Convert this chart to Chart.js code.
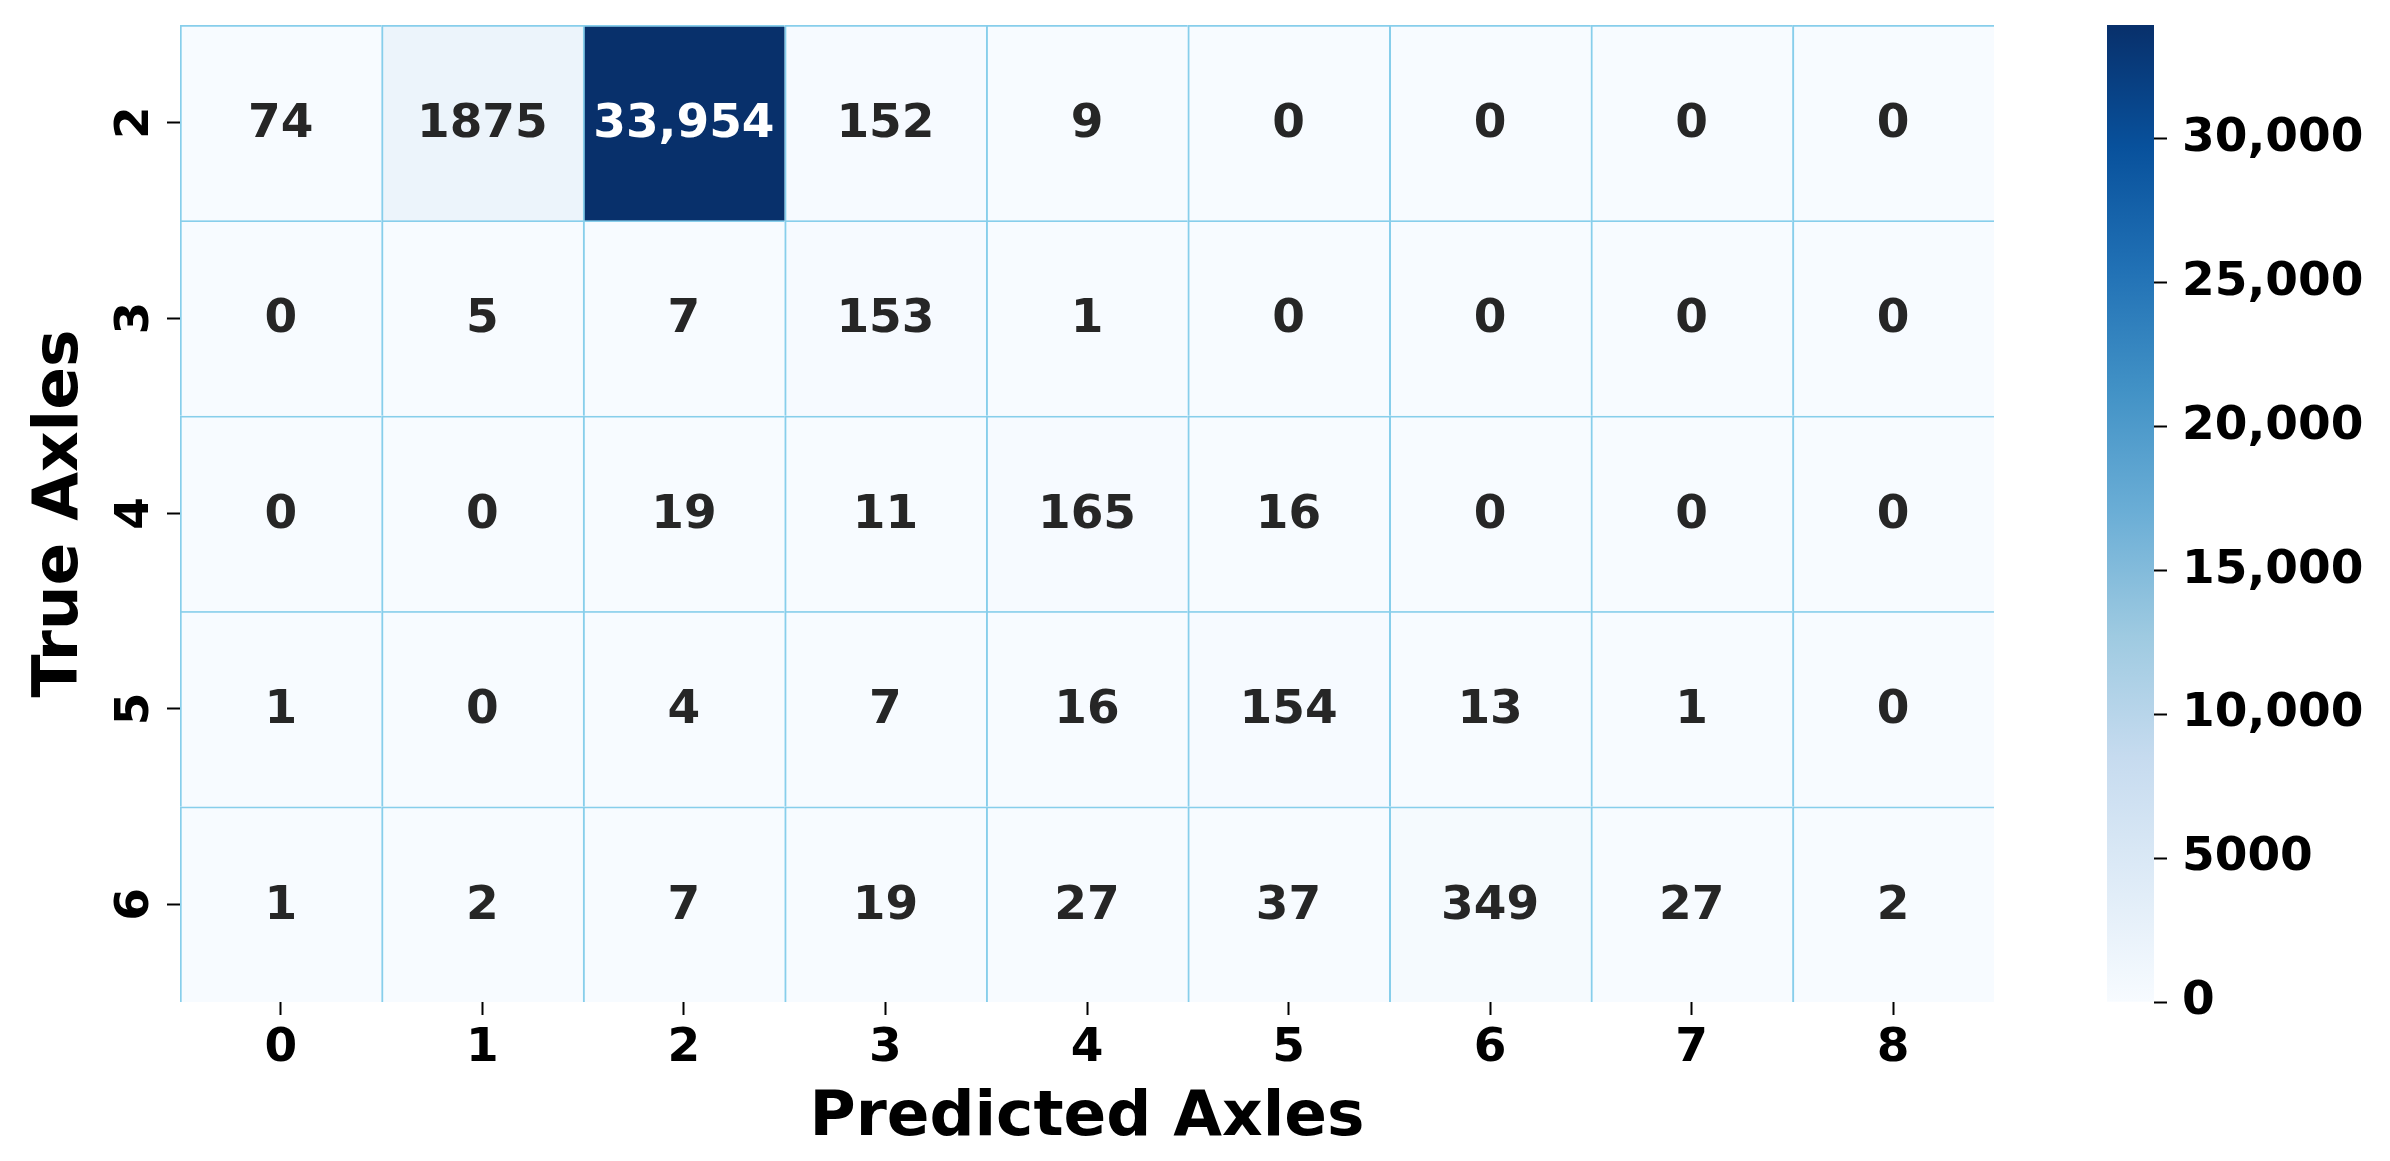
<!DOCTYPE html>
<html>
<head>
<meta charset="utf-8">
<script src="https://cdn.jsdelivr.net/npm/chart.js@4.4.0/dist/chart.umd.min.js"></script>
<style>
  html, body { margin: 0; padding: 0; background: #fff; }
  #wrap { position: relative; width: 2390px; height: 1161px; }
  #heatmap { position: absolute; left: 0; top: 0; }
  #colorbar { position: absolute; left: 2060px; top: 0; }
</style>
</head>
<body>
<div id="wrap">
  <canvas id="heatmap" width="2000" height="1161"></canvas>
  <canvas id="colorbar" width="330" height="1161"></canvas>
</div>
<script>
// --- Data ---
const predictedAxles = ['0', '1', '2', '3', '4', '5', '6', '7', '8'];
const trueAxles = ['2', '3', '4', '5', '6'];
const row2 = [74, 1875, 33954, 152, 9, 0, 0, 0, 0];
const row3 = [0, 5, 7, 153, 1, 0, 0, 0, 0];
const row4 = [0, 0, 19, 11, 165, 16, 0, 0, 0];
const row5 = [1, 0, 4, 7, 16, 154, 13, 1, 0];
const row6 = [1, 2, 7, 19, 27, 37, 349, 27, 2];
const counts = [row2, row3, row4, row5, row6];
const colorbarTicks = [0, 5000, 10000, 15000, 20000, 25000, 30000];

const vmax = Math.max(...counts.flat());

// matplotlib "Blues"
const bluesStops = ['#f7fbff', '#deebf7', '#c6dbef', '#9ecae1', '#6baed6', '#4292c6', '#2171b5', '#08519c', '#08306b'];

function hexToRgb(h) {
    return [1, 3, 5].map(i => parseInt(h.slice(i, i + 2), 16));
}

function blues(t) {
    t = Math.max(0, Math.min(1, t));
    const pos = t * (bluesStops.length - 1);
    const k = Math.min(Math.floor(pos), bluesStops.length - 2);
    const f = pos - k;
    const a = hexToRgb(bluesStops[k]);
    const b = hexToRgb(bluesStops[k + 1]);
    return a.map((c, i) => Math.round(c + (b[i] - c) * f));
}

function cellColor(v) {
    const [r, g, b] = blues(v / vmax);
    return `rgb(${r}, ${g}, ${b})`;
}

function luminance(v) {
    const lin = blues(v / vmax).map(c => {
        c /= 255;
        return c <= 0.03928 ? c / 12.92 : Math.pow((c + 0.055) / 1.055, 2.4);
    });
    return 0.2126 * lin[0] + 0.7152 * lin[1] + 0.0722 * lin[2];
}

// 5000 stays plain, 10,000 and up get a comma
function fmt(n) {
    return n >= 10000 ? String(n).replace(/\B(?=(\d{3})+(?!\d))/g, ',') : String(n);
}

// keep the axes from adding their own label padding to the chart area
function noPad(s) {
    s.paddingTop = 0;
    s.paddingBottom = 0;
}

Chart.defaults.font.family = '"DejaVu Sans", sans-serif';
Chart.defaults.font.weight = 'bold';
Chart.defaults.color = '#000';

const tickFont = { size: 47, weight: 'bold' };
const titleFont = { size: 63, weight: 'bold' };

// --- Cell annotations ---
const cellLabels = {
    id: 'cellLabels',
    afterDatasetsDraw(chart) {
        const { ctx } = chart;
        ctx.save();
        ctx.font = 'bold 47px "DejaVu Sans"';
        ctx.textAlign = 'center';
        ctx.textBaseline = 'middle';
        chart.data.datasets.forEach((ds, i) => {
            chart.getDatasetMeta(i).data.forEach((bar, j) => {
                const v = counts[i][j];
                const { x, y, base } = bar.getProps(['x', 'y', 'base'], true);
                ctx.fillStyle = luminance(v) > 0.408 ? '#262626' : '#ffffff';
                ctx.fillText(fmt(v), x, (y + base) / 2 + 2);
            });
        });
        ctx.restore();
    }
};

// --- Heatmap ---
new Chart(document.getElementById('heatmap'), {
    type: 'bar',
    data: {
        labels: predictedAxles,
        datasets: trueAxles.map((label, i) => ({
            label: 'True ' + label,
            data: counts[i].map(() => [i, i + 1]),
            backgroundColor: counts[i].map(cellColor),
            borderColor: 'skyblue',
            borderWidth: { top: 2, left: 2, right: 0, bottom: 0 },
            borderSkipped: false,
            barPercentage: 1,
            categoryPercentage: 1
        }))
    },
    options: {
        responsive: false,
        animation: false,
        devicePixelRatio: 1,
        layout: { padding: { top: 25, right: 6, bottom: 0, left: 0 } },
        plugins: { legend: { display: false }, tooltip: { enabled: false } },
        scales: {
            x: {
                stacked: true,
                grid: { offset: false, drawOnChartArea: false, tickLength: 13, tickWidth: 2, tickColor: '#000' },
                border: { display: false },
                ticks: { font: tickFont, padding: 6, maxRotation: 0, minRotation: 0 },
                title: { display: true, text: 'Predicted Axles', font: titleFont, padding: { top: 0, bottom: 5 } },
                afterFit: s => { s.height = 159; }
            },
            y: {
                type: 'linear',
                min: 0,
                max: trueAxles.length,
                reverse: true,
                stacked: false,
                afterBuildTicks: s => { s.ticks = trueAxles.map((_, i) => ({ value: i + 0.5 })); },
                grid: { drawOnChartArea: false, tickLength: 13, tickWidth: 2, tickColor: '#000' },
                border: { display: false },
                ticks: {
                    font: tickFont,
                    padding: 15,
                    minRotation: 90,
                    maxRotation: 90,
                    crossAlign: 'center',
                    callback: (v, idx) => trueAxles[idx]
                },
                title: { display: true, text: 'True Axles', font: titleFont, padding: { top: 23, bottom: 0 } },
                afterFit: s => { s.width = 180; noPad(s); }
            }
        }
    },
    plugins: [cellLabels]
});

// --- Colorbar ---
new Chart(document.getElementById('colorbar'), {
    type: 'bar',
    data: {
        labels: [''],
        datasets: [{
            data: [[0, vmax]],
            backgroundColor: c => {
                const chart = c.chart;
                if (!chart.chartArea) return bluesStops[0];
                const y = chart.scales.y;
                const g = chart.ctx.createLinearGradient(0, y.getPixelForValue(0), 0, y.getPixelForValue(vmax));
                bluesStops.forEach((col, k) => g.addColorStop(k / (bluesStops.length - 1), col));
                return g;
            },
            borderWidth: 0,
            barPercentage: 1,
            categoryPercentage: 1
        }]
    },
    options: {
        responsive: false,
        animation: false,
        devicePixelRatio: 1,
        layout: { padding: { top: 25, right: 0, bottom: 159, left: 47 } },
        plugins: { legend: { display: false }, tooltip: { enabled: false } },
        scales: {
            x: { display: false },
            y: {
                position: 'right',
                min: 0,
                max: vmax,
                afterBuildTicks: s => { s.ticks = colorbarTicks.map(v => ({ value: v })); },
                grid: { drawOnChartArea: false, tickLength: 13, tickWidth: 2, tickColor: '#000' },
                border: { display: false },
                ticks: { font: tickFont, padding: 15, callback: v => fmt(v) },
                afterFit: s => { s.width = 236; noPad(s); }
            }
        }
    }
});
</script>
</body>
</html>
